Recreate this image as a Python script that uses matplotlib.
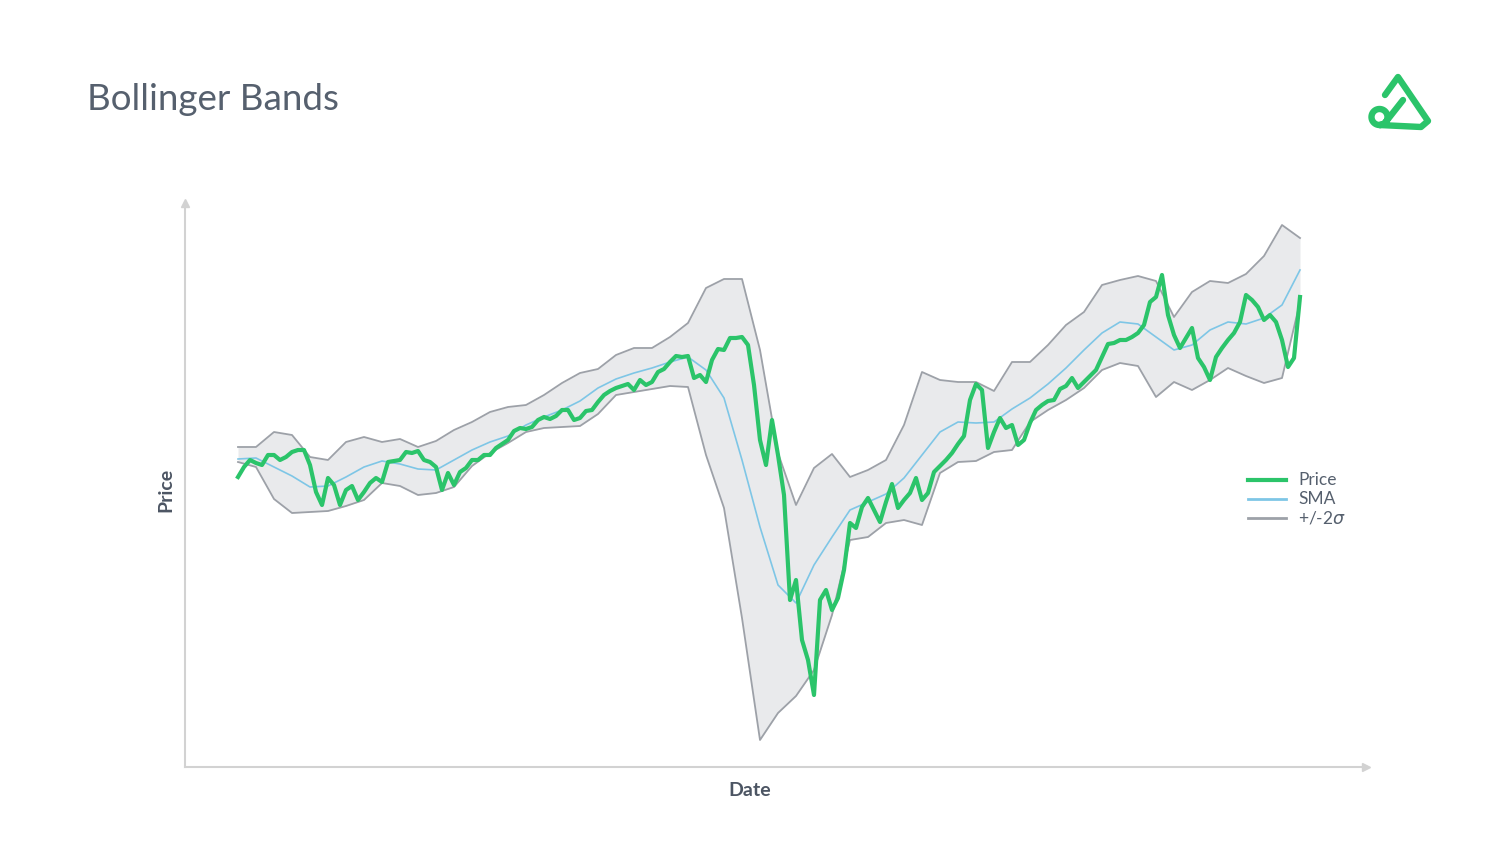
import numpy as np
import matplotlib.pyplot as plt
from matplotlib.lines import Line2D

# daily closing price (arbitrary units), one value per trading day
price = [323, 333, 340, 337, 335, 345, 345, 340, 343, 348, 350, 350, 335, 308, 295,
         322, 315, 295, 310, 314, 300, 308, 317, 322, 318, 338, 339, 340, 348, 347,
         349, 340, 338, 333, 310, 327, 315, 328, 332, 340, 340, 345, 345, 352, 356,
         360, 369, 372, 371, 373, 380, 383, 381, 384, 390, 390, 380, 382, 389, 390,
         398, 405, 409, 412, 414, 416, 410, 420, 415, 418, 428, 431, 438, 444, 443,
         444, 422, 425, 418, 440, 451, 450, 462, 462, 463, 455, 415, 360, 335, 380,
         345, 305, 200, 220, 160, 140, 105, 200, 210, 190, 202, 230, 277, 272, 293,
         302, 290, 278, 298, 316, 292, 300, 307, 322, 300, 307, 328, 334, 340, 347,
         356, 364, 400, 416, 410, 352, 368, 382, 372, 375, 355, 360, 377, 390, 395,
         399, 400, 411, 414, 422, 412, 418, 424, 430, 443, 456, 457, 460, 460, 463,
         467, 475, 498, 503, 525, 485, 465, 452, 462, 472, 442, 433, 420, 443, 452,
         460, 467, 478, 505, 500, 493, 480, 485, 478, 460, 433, 442, 503]
days = np.arange(len(price))

# 20-day SMA and the +/-2 sigma bands, read every third day
band_days = np.arange(0, len(price), 3)
sma = [341, 342, 333, 324, 313, 314, 323, 333, 339, 336, 331, 330, 340, 350, 358,
       364, 375, 383, 390, 399, 412, 421, 427, 432, 438, 443, 430, 402, 340, 273,
       215, 197, 235, 263, 290, 298, 306, 322, 345, 368, 378, 377, 378, 391, 402,
       416, 432, 450, 467, 478, 476, 463, 450, 455, 470, 478, 476, 482, 495, 530]
upper = [353, 353, 368, 365, 343, 340, 358, 363, 358, 361, 353, 359, 370, 378, 388,
         393, 395, 405, 417, 427, 431, 445, 452, 452, 463, 477, 512, 521, 521, 450,
         347, 295, 332, 346, 323, 330, 340, 375, 428, 420, 418, 418, 409, 438, 438,
         455, 475, 488, 515, 520, 524, 519, 483, 508, 519, 517, 526, 544, 575, 562]
lower = [338, 333, 301, 287, 288, 289, 294, 300, 317, 314, 305, 307, 313, 334, 347,
         357, 368, 372, 373, 374, 386, 405, 408, 411, 414, 413, 345, 292, 182, 60,
         87, 104, 130, 185, 260, 263, 277, 280, 275, 327, 338, 339, 348, 350, 378,
         390, 400, 412, 430, 437, 434, 403, 418, 410, 420, 432, 424, 417, 422, 498]

green = '#2bc46a'
blue = '#7ec6e6'
grey = '#9da1a8'
fill = '#e9eaec'
text_col = '#56606e'
label_col = '#4c5563'

W, H = 1500, 859
fig = plt.figure(figsize=(15, 8.59), dpi=100)
ax = fig.add_axes([185 / W, (H - 767) / H, (1366 - 185) / W, (767 - 203) / H])

ax.fill_between(band_days, lower, upper, color=fill, lw=0)
ax.plot(band_days, upper, color=grey, lw=1.3)
ax.plot(band_days, lower, color=grey, lw=1.3)
ax.plot(band_days, sma, color=blue, lw=1.2)
ax.plot(days, price, color=green, lw=3.0, solid_joinstyle='round')

# day 0 sits at x=238px, one day every 6px
ax.set_xlim((185 - 238) / 6, (1366 - 238) / 6)
ax.set_ylim(800 - 767, 800 - 203)

for s in ['top', 'right']:
    ax.spines[s].set_visible(False)
for s in ['left', 'bottom']:
    ax.spines[s].set_color('#d2d2d2')
    ax.spines[s].set_linewidth(1.5)
ax.set_xticks([])
ax.set_yticks([])
ax.plot(0, 1, '^', transform=ax.transAxes, ms=6, color='#d2d2d2', clip_on=False)
ax.plot(1, 0, '>', transform=ax.transAxes, ms=6, color='#d2d2d2', clip_on=False)

fig.text(750 / W, 1 - 790 / H, 'Date', fontsize=14, fontweight='bold',
         color=label_col, family='Lato', ha='center', va='center')
fig.text(166 / W, 1 - 490 / H, 'Price', fontsize=14, fontweight='bold',
         color=label_col, family='Lato', ha='center', va='center', rotation=90)

fig.text(87 / W, 1 - 99 / H, 'Bollinger Bands', fontsize=26.5, color=text_col,
         family='Lato', va='center')

# legend
entries = [('Price', green, 3.0), ('SMA', blue, 2.0), ('+/-2$\\sigma$', grey, 2.0)]
for k, (lab, col, lw) in enumerate(entries):
    yy = 1 - (480 + 19 * k) / H
    fig.add_artist(Line2D([1248 / W, 1286 / W], [yy, yy], color=col, lw=lw,
                          transform=fig.transFigure))
    fig.text(1298 / W, yy, lab, fontsize=12.5, color=text_col, family='Lato',
             va='center')

# logo
lg = fig.add_axes([1360 / W, 1 - 140 / H, 80 / W, 75 / H])
lg.set_xlim(1360, 1440)
lg.set_ylim(140, 65)
lg.axis('off')
kw = dict(color=green, lw=4.6, solid_capstyle='round', solid_joinstyle='round')
cx, cy, r = 1379.5, 117, 8
t = np.radians(np.linspace(45, 450, 80))
lx = np.concatenate([[1403], cx + r * np.cos(t), [1421, 1428, 1398, 1385]])
ly = np.concatenate([[100], cy + r * np.sin(t), [127, 121, 77, 95]])
lg.plot(lx, ly, **kw)

fig.savefig('out.png', dpi=100, facecolor='white')
